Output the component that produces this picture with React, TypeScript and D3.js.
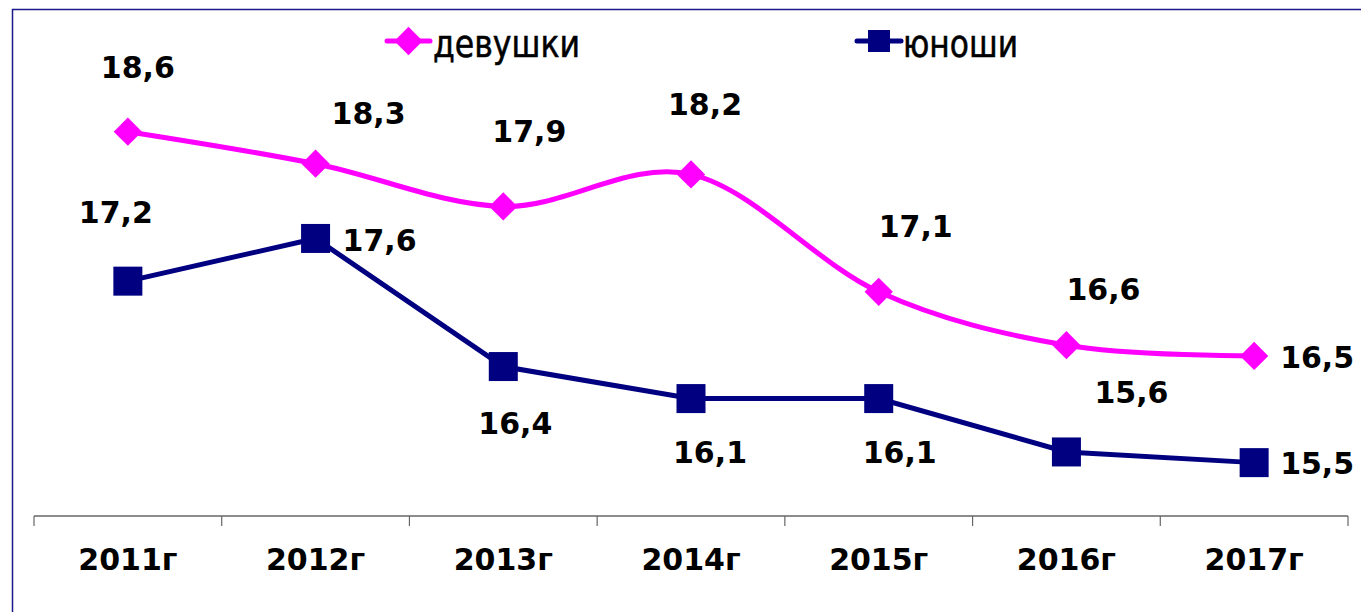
import { useRef, useEffect } from "react";
import * as d3 from "d3";

// Values
const years = ["2011г", "2012г", "2013г", "2014г", "2015г", "2016г", "2017г"];
const girls = [18.6, 18.3, 17.9, 18.2, 17.1, 16.6, 16.5];
const boys = [17.2, 17.6, 16.4, 16.1, 16.1, 15.6, 15.5];
const girlsName = "девушки";
const boysName = "юноши";

// Where each data label sits relative to its point (they were dragged by hand)
const girlsLabelOffset: [number, number][] = [
  [10, -54], [53, -40], [26, -64], [14, -59], [37, -55], [37, -45], [63, 12],
];
const boysLabelOffset: [number, number][] = [
  [-12, -58], [64, 13], [12, 67], [19, 64], [21, 64], [65, -49], [63, 11],
];

const PINK = "#ff00ff";
const NAVY = "#000080";
const FONT = "'DejaVu Sans', Verdana, sans-serif";

const fmt = (v: number) => v.toFixed(1).replace(".", ",");

export default function App() {
  const svgRef = useRef<SVGSVGElement>(null);

  useEffect(() => {
    if (!svgRef.current) return;
    const width = 1361;
    const height = 612;

    const svg = d3.select(svgRef.current).attr("width", width).attr("height", height);
    svg.selectAll("*").remove();

    // chart border (runs off the right and bottom edge)
    svg
      .append("rect")
      .attr("x", 12.5)
      .attr("y", 9.5)
      .attr("width", 2000)
      .attr("height", 2000)
      .attr("fill", "none")
      .attr("stroke", "#1a1a8c")
      .attr("stroke-width", 1.5);

    // Scales
    const x = d3.scaleBand<string>().domain(years).range([34, 1348]).padding(0);
    const cx = (i: number) => (x(years[i]) || 0) + x.bandwidth() / 2;
    const y = d3.scaleLinear().domain([15, 19]).range([516, 89]);
    const axisY = 516;

    // X axis: line with ticks at category boundaries
    const g = svg.append("g");
    g.append("line")
      .attr("x1", 34)
      .attr("x2", 1348)
      .attr("y1", axisY)
      .attr("y2", axisY)
      .attr("stroke", "#666")
      .attr("stroke-width", 1.5);

    const bounds = years.map((d) => x(d) || 0).concat([x.range()[1]]);
    g.selectAll(".tick")
      .data(bounds)
      .join("line")
      .attr("class", "tick")
      .attr("x1", (d) => d)
      .attr("x2", (d) => d)
      .attr("y1", axisY)
      .attr("y2", axisY + 10)
      .attr("stroke", "#666")
      .attr("stroke-width", 1.2);

    g.selectAll(".xlab")
      .data(years)
      .join("text")
      .attr("class", "xlab")
      .attr("x", (_, i) => cx(i))
      .attr("y", 570)
      .attr("text-anchor", "middle")
      .attr("font-family", FONT)
      .attr("font-weight", "bold")
      .attr("font-size", 30)
      .attr("fill", "#000")
      .text((d) => d);

    // Lines
    const girlsLine = d3
      .line<number>()
      .x((_, i) => cx(i))
      .y((d) => y(d))
      .curve(d3.curveCardinal.tension(0));

    const boysLine = d3
      .line<number>()
      .x((_, i) => cx(i))
      .y((d) => y(d));

    svg
      .append("path")
      .attr("d", boysLine(boys))
      .attr("fill", "none")
      .attr("stroke", NAVY)
      .attr("stroke-width", 5);

    svg
      .append("path")
      .attr("d", girlsLine(girls))
      .attr("fill", "none")
      .attr("stroke", PINK)
      .attr("stroke-width", 5);

    // Markers
    const diamond = d3.symbol().type(d3.symbolSquare).size(20 * 20);
    const square = d3.symbol().type(d3.symbolSquare).size(29 * 29);

    svg
      .selectAll(".bmark")
      .data(boys)
      .join("path")
      .attr("class", "bmark")
      .attr("d", square()!)
      .attr("transform", (d, i) => `translate(${cx(i)},${y(d)})`)
      .attr("fill", NAVY);

    svg
      .selectAll(".gmark")
      .data(girls)
      .join("path")
      .attr("class", "gmark")
      .attr("d", diamond()!)
      .attr("transform", (d, i) => `translate(${cx(i)},${y(d)}) rotate(45)`)
      .attr("fill", PINK);

    // Data labels
    const drawLabels = (vals: number[], offs: [number, number][], cls: string) => {
      svg
        .selectAll(`.${cls}`)
        .data(vals)
        .join("text")
        .attr("class", cls)
        .attr("x", (_, i) => cx(i) + offs[i][0])
        .attr("y", (d, i) => y(d) + offs[i][1])
        .attr("text-anchor", "middle")
        .attr("font-family", FONT)
        .attr("font-weight", "bold")
        .attr("font-size", 30)
        .attr("fill", "#000")
        .text((d) => fmt(d));
    };
    drawLabels(girls, girlsLabelOffset, "glab");
    drawLabels(boys, boysLabelOffset, "blab");

    // Legend
    const legend = svg.append("g");
    const items = [
      { name: girlsName, color: PINK, x0: 387, x1: 430, sym: diamond, rot: 45, tx: 433, tl: 147 },
      { name: boysName, color: NAVY, x0: 857, x1: 901, sym: d3.symbol().type(d3.symbolSquare).size(22 * 22), rot: 0, tx: 903, tl: 115 },
    ];
    items.forEach((it) => {
      legend
        .append("line")
        .attr("x1", it.x0)
        .attr("x2", it.x1)
        .attr("y1", 41)
        .attr("y2", 41)
        .attr("stroke", it.color)
        .attr("stroke-width", 5)
        .attr("stroke-linecap", "round");
      legend
        .append("path")
        .attr("d", it.sym()!)
        .attr("transform", `translate(${(it.x0 + it.x1) / 2},41) rotate(${it.rot})`)
        .attr("fill", it.color);
      legend
        .append("text")
        .attr("x", it.tx)
        .attr("y", 57)
        .attr("font-family", FONT)
        .attr("font-size", 38)
        .attr("textLength", it.tl)
        .attr("lengthAdjust", "spacingAndGlyphs")
        .attr("fill", "#000")
        .attr("stroke", "#000")
        .attr("stroke-width", 0.6)
        .text(it.name);
    });
  }, []);

  return (
    <div style={{ position: "fixed", left: 0, top: 0, width: 1361, height: 612, background: "#fff", overflow: "hidden" }}>
      <svg ref={svgRef} style={{ display: "block" }} />
    </div>
  );
}
